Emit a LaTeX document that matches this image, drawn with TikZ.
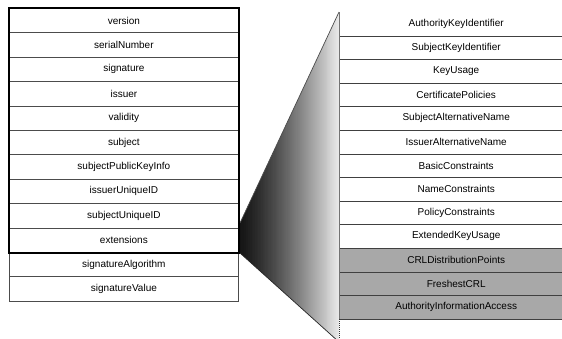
\documentclass[tikz,border=0pt]{standalone}
\usepackage{fontspec}
\setmainfont{Liberation Sans}
\begin{document}
\begin{tikzpicture}[x=1pt,y=-1pt,
  txt/.style={font=\fontsize{10}{12}\selectfont, text=black},
  lrow/.style={txt, draw=black!70, line width=0.8pt, minimum width=229pt, minimum height=24.4pt, inner sep=0pt, anchor=north west},
  rrow/.style={txt, minimum width=234pt, minimum height=23.6pt, inner sep=0pt, anchor=north west},
  greyrow/.style={rrow, fill=black!34},
  rline/.style={draw=black!75, line width=0.8pt},
  edgeline/.style={draw=black!85, line width=0.7pt}]
\clip (0,0) rectangle (562,338);
\fill[white] (0,0) rectangle (562,338);
% gradient wedge
\coordinate (s1) at (240,223);
\coordinate (s2) at (339,12);
\coordinate (s3) at (339,342);
\coordinate (s4) at (240,253);
\begin{scope}
  \clip (s1) -- (s2) -- (s3) -- (s4) -- cycle;
  \foreach \k in {0,...,99} {
    \pgfmathtruncatemacro{\shadeval}{92-84*(\k/99)^1.3}
    \fill[black!\shadeval] ({239.5+\k},0) rectangle ({240.6+\k},345);
  }
\end{scope}
\draw[edgeline, draw=black!70] (s1) -- (s2);
\draw[edgeline] (s4) -- (s3);
% left column
\foreach \t [count=\i] in {version,serialNumber,signature,issuer,validity,subject,subjectPublicKeyInfo,issuerUniqueID,subjectUniqueID,extensions,signatureAlgorithm,signatureValue}
  \node[lrow] (l\i) at (9,{8+24.4*(\i-1)}) {\t};
\draw[line width=2.6pt] (l1.north west) rectangle (l10.south east);
% right column
\foreach \t [count=\i] in {AuthorityKeyIdentifier,SubjectKeyIdentifier,KeyUsage,CertificatePolicies,SubjectAlternativeName,IssuerAlternativeName,BasicConstraints,NameConstraints,PolicyConstraints,ExtendedKeyUsage}
  \node[rrow, fill=white] (r\i) at (339,{12+23.6*(\i-1)}) {\t};
\foreach \t [count=\i from 11] in {CRLDistributionPoints,FreshestCRL,AuthorityInformationAccess}
  \node[greyrow] (r\i) at (339,{12+23.6*(\i-1)}) {\t};
\foreach \i in {1,...,13}
  \draw[rline] (r\i.south west) -- (r\i.south east);
\draw[rline, draw=black!55] (r1.north west) -- (r13.south west);
\coordinate (dend) at (339,338);
\draw[black!80, line width=0.7pt, dash pattern=on 1pt off 1pt] (r13.south west) -- (dend);
\end{tikzpicture}
\end{document}
